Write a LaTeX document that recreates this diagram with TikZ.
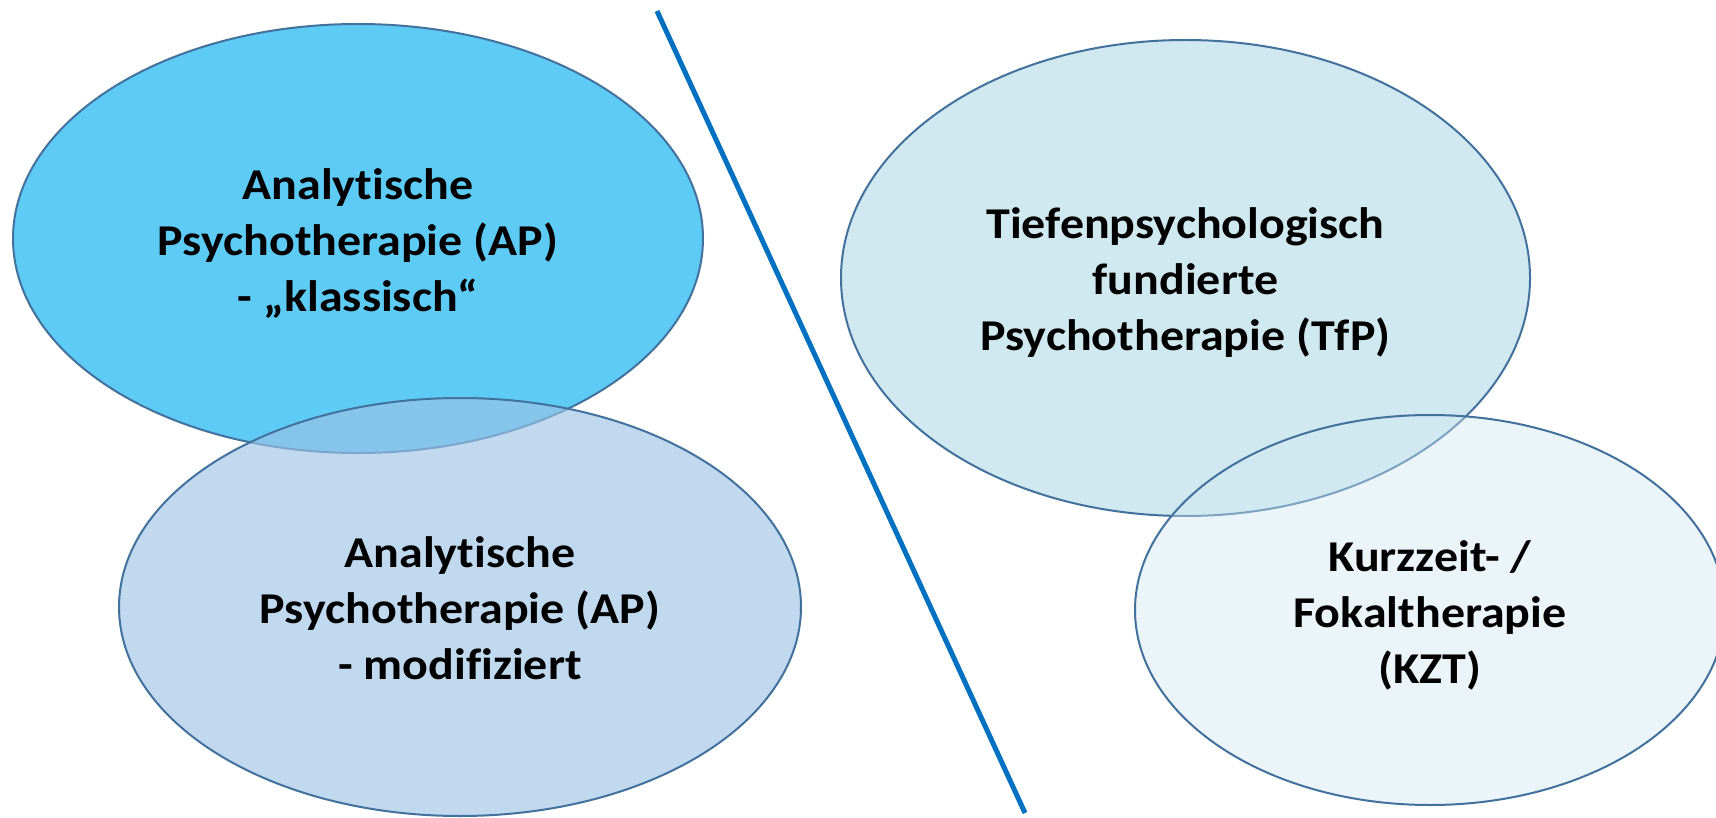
\documentclass[tikz,border=0pt]{standalone}
\usepackage{fontspec}
\setmainfont{Carlito}[Ligatures=NoCommon, BoldFeatures={FakeStretch=1.09}]
\usetikzlibrary{shapes.geometric}
\definecolor{eOne}{HTML}{5ECBF5}
\definecolor{eTwo}{HTML}{9DC3E6}
\definecolor{eThree}{HTML}{D0E8F0}
\definecolor{eFour}{HTML}{D0E8F0}
\definecolor{edge}{HTML}{41719C}
\definecolor{divcol}{HTML}{0070C0}
\tikzset{
  ell/.style={ellipse, draw=edge, line width=2pt, inner sep=0pt},
  lbl/.style={inner sep=0pt, align=center,
    font=\fontsize{44}{56}\selectfont\bfseries, text=black},
  divider/.style={draw=divcol, line width=5pt}
}
\begin{document}
\begin{tikzpicture}[x=1pt,y=-1pt]
\useasboundingbox (0,0) rectangle (1716,818);
\clip (0,0) rectangle (1716,818);
\node[ell, fill=eOne, minimum width=690pt, minimum height=429pt] (e1) at (358,238.5) {};
\node[lbl] (t1) at ([yshift=-5pt]e1.center) {Analytische\\Psychotherapie (AP)\\- „klassisch“};
\node[ell, fill=eTwo, fill opacity=0.64, minimum width=682pt, minimum height=418pt] (e2) at (460,607) {};
\node[lbl] (t2) at ([yshift=-1pt]e2.center) {Analytische\\Psychotherapie (AP)\\- modifiziert};
\node[ell, fill=eThree, minimum width=689pt, minimum height=476pt] (e3) at (1185.5,278) {};
\node[lbl] (t3) at ([yshift=-5pt]e3.center) {Tiefenpsychologisch\\fundierte\\Psychotherapie (TfP)};
\node[ell, fill=eFour, fill opacity=0.42, minimum width=590pt, minimum height=390pt] (e4) at (1430,610) {};
\node[lbl] (t4) at ([yshift=-5pt]e4.center) {Kurzzeit- /\\Fokaltherapie\\(KZT)};
\coordinate (dtop) at (657,11);
\coordinate (dbot) at (1025,813);
\draw[divider] (dtop) -- (dbot);
\end{tikzpicture}
\end{document}
